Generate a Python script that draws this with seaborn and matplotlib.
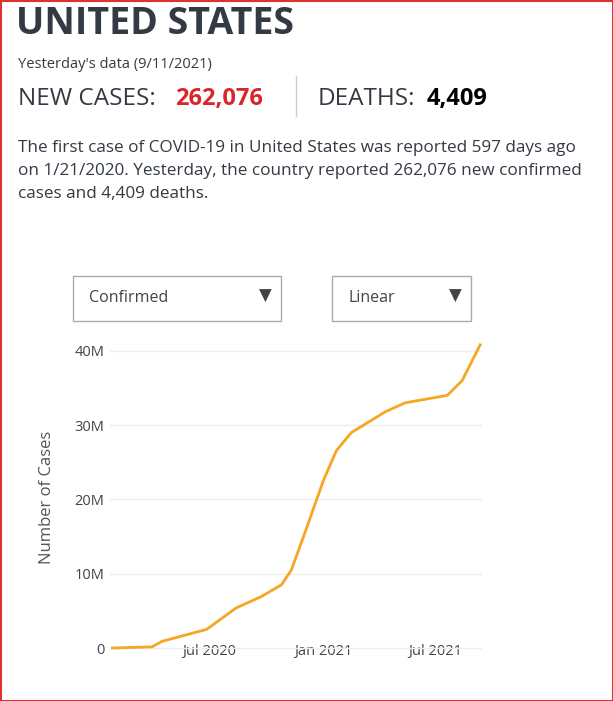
import matplotlib
matplotlib.use("Agg")
import matplotlib.pyplot as plt
import seaborn as sns
import pandas as pd
from matplotlib.patches import Rectangle

dates = ["2020-01-26","2020-03-30","2020-04-15","2020-06-26","2020-08-13","2020-09-22",
         "2020-10-25","2020-11-10","2020-12-04","2021-01-01","2021-01-22","2021-02-15",
         "2021-04-11","2021-05-13","2021-07-20","2021-08-13","2021-09-11"]
cases_m = [0.0,0.15,0.9,2.5,5.4,6.9,8.5,10.5,16.0,22.6,26.6,29.0,31.8,33.0,34.0,36.0,40.8]
yticks = [0, 10, 20, 30, 40]
ytick_labels = ["0", "10M", "20M", "30M", "40M"]
xticks = ["2020-07-01", "2021-01-01", "2021-07-01"]
xtick_labels = ["Jul 2020", "Jan 2021", "Jul 2021"]

df = pd.DataFrame({"date": pd.to_datetime(dates), "cases": cases_m})
plt.rcParams["font.family"] = "Open Sans"
W, H = 613, 701
fig = plt.figure(figsize=(W/100, H/100), dpi=100)
fig.patches.append(Rectangle((0.5/W, 0.5/H), 1-1/W, 1-1/H, transform=fig.transFigure,
                             fill=False, edgecolor="#e03030", lw=1.5))
def t(x, y, s, **kw):
    fig.text(x/W, 1-y/H, s, **kw)
dark = "#333a44"
t(16, 24, "UNITED STATES", fontsize=27, fontweight="bold", color=dark, va="center")
t(18, 64, "Yesterday's data (9/11/2021)", fontsize=10.5, color=dark, va="center")
t(18, 99, "NEW CASES:", fontsize=17.5, color=dark, va="center")
t(175, 99, "262,076", fontsize=17, color="#d9262b", fontweight="bold", va="center")
fig.add_artist(plt.Line2D([296/W, 296/W], [1-76/H, 1-116/H], color="#cccccc", lw=1))
t(318, 99, "DEATHS:", fontsize=17.5, color=dark, va="center")
t(427, 99, "4,409", fontsize=17, color="black", fontweight="bold", va="center")
para = ("The first case of COVID-19 in United States was reported 597 days ago\n"
        "on 1/21/2020. Yesterday, the country reported 262,076 new confirmed\n"
        "cases and 4,409 deaths.")
t(18, 171, para, fontsize=12.3, color=dark, va="center", linespacing=1.55)

for x0, x1, lab in [(73, 281, "Confirmed"), (332, 471, "Linear")]:
    fig.patches.append(Rectangle((x0/W, 1-321/H), (x1-x0)/W, 45/H, transform=fig.transFigure,
                                 fill=False, edgecolor="#aaaaaa", lw=1))
    t(x0+16, 298, lab, fontsize=11.5, color="#444444", va="center")
    t(x1-22, 296, "▼", fontsize=12, color="#444444", va="center", family="DejaVu Sans")

ax = fig.add_axes([110/W, 1-655/H, 372/W, (655-340)/H])
sns.lineplot(data=df, x="date", y="cases", ax=ax, color="#f5a623", lw=2)
y0 = 648; ppm = 7.43
ax.set_ylim(-(655-y0)/ppm, (y0-340)/ppm)
ax.set_xlim(pd.Timestamp("2020-01-22"), pd.Timestamp("2021-09-14"))
ax.set_yticks(yticks, ytick_labels)
ax.set_xticks(pd.to_datetime(xticks), xtick_labels)
ax.tick_params(axis="both", length=0, labelsize=10.5, colors="#444444")
ax.tick_params(axis="x", pad=-8)
ax.tick_params(axis="y", pad=4)
ax.grid(axis="y", color="#eeeeee", lw=1)
ax.grid(axis="x", visible=False)
for s in ax.spines.values():
    s.set_visible(False)
ax.set_xlabel("")
ax.set_ylabel("Number of Cases", fontsize=12, color="#555555", labelpad=14)
ax.set_facecolor("none")
fig.savefig("out.png", dpi=100)
